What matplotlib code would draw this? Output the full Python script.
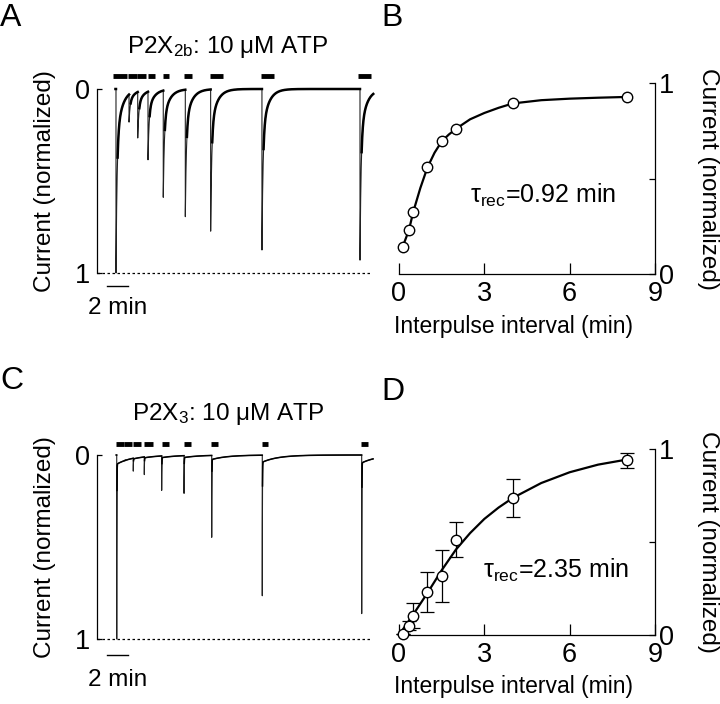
import numpy as np
import matplotlib
matplotlib.use("Agg")
import matplotlib.pyplot as plt

plt.rcParams['font.family'] = ['Liberation Sans', 'DejaVu Sans']
plt.rcParams['mathtext.fontset'] = 'custom'
plt.rcParams['mathtext.rm'] = 'Liberation Sans'
plt.rcParams['mathtext.it'] = 'Liberation Sans:italic'

# ---- panel A: P2X2b trace (minutes from first pulse, normalized current)
a_onsets = [0.0, 1.23, 2.05, 3.02, 4.46, 6.54, 8.93, 13.77, 23.02]
a_peaks = [1.0, 0.15, 0.25, 0.37, 0.58, 0.69, 0.77, 0.875, 0.93]
a_bar_start = [-0.25, 1.16, 2.01, 2.99, 4.41, 6.42, 8.87, 13.71, 22.86]
a_bar_end = [1.01, 1.95, 2.80, 3.68, 5.03, 7.14, 10.07, 14.93, 24.06]
a_end = 24.27

# ---- panel C: P2X3 trace
c_onsets = [0.07, 0.85, 1.63, 2.67, 4.31, 6.42, 9.03, 13.80, 23.18]
c_peaks = [1.0, 0.0, 0.07, 0.096, 0.187, 0.205, 0.445, 0.764, 0.862]
c_bar_start = [0.0, 0.80, 1.60, 2.67, 4.37, 6.44, 8.93, 13.75, 23.11]
c_bar_end = [0.71, 1.51, 2.36, 3.46, 5.00, 7.08, 9.65, 14.37, 23.75]
c_end = 24.25

# ---- panel B: recovery P2X2b
b_interval = [0.13, 0.35, 0.5, 1.0, 1.5, 2.0, 4.0, 8.0]
b_current = [0.143, 0.23, 0.325, 0.558, 0.694, 0.76, 0.893, 0.927]
b_fit_t = [0.13, 0.35, 0.5, 0.75, 1.0, 1.25, 1.5, 1.75, 2.0, 2.5, 3.0, 3.5, 4.0, 5.0, 6.0, 7.0, 8.0]
b_fit_y = [0.143, 0.23, 0.325, 0.45, 0.558, 0.635, 0.694, 0.73, 0.76, 0.81, 0.843, 0.87, 0.893, 0.91, 0.918, 0.923, 0.927]

# ---- panel D: recovery P2X3
d_interval = [0.13, 0.35, 0.5, 1.0, 1.5, 2.0, 4.0, 8.0]
d_current = [0.007, 0.05, 0.104, 0.231, 0.315, 0.513, 0.737, 0.939]
d_err = [0.0, 0.025, 0.067, 0.11, 0.14, 0.095, 0.10, 0.04]
d_fit_t = [0.0, 0.25, 0.5, 0.75, 1.0, 1.5, 2.0, 2.5, 3.0, 3.5, 4.0, 5.0, 6.0, 7.0, 8.0]
d_fit_y = [0.0, 0.055, 0.11, 0.168, 0.226, 0.348, 0.459, 0.548, 0.624, 0.685, 0.737, 0.817, 0.875, 0.916, 0.943]

W, H = 720, 704
FS = 17.5    # vertical axis labels
XFS = 16.5   # horizontal axis labels
TFS = 19.5   # tick labels
PX_PER_MIN = 10.6
T0_PX = 116


def box(left, top, right, bottom):
    return [left / W, 1 - bottom / H, (right - left) / W, (bottom - top) / H]


def build_trace(onsets, peaks, t_end, frac, tau_fast, tau_slow):
    t = np.linspace(onsets[0] - 0.05, t_end, 8000)
    t = np.sort(np.concatenate([t, onsets, np.array(onsets) - 0.002]))
    y = np.zeros_like(t)
    for t0, p in zip(onsets, peaks):
        dt = t - t0
        m = dt >= 0
        y[m] += p * (frac * np.exp(-dt[m] / tau_fast) + (1 - frac) * np.exp(-dt[m] / tau_slow))
    # time since latest pulse, used to draw the fast part thin
    idx = np.searchsorted(onsets, t, side='right') - 1
    since = np.where(idx >= 0, t - np.array(onsets)[np.clip(idx, 0, None)], 99)
    return t, y, since


def trace_panel(top_px, zero_px, one_px, bottom_px, onsets, peaks, starts, ends, t_end,
                shape, lw, fast_win, bar_y, title, title_y, bar_px, label_px):
    ax = fig.add_axes(box(97, top_px, 382, bottom_px))
    scale = one_px - zero_px
    x0 = (97 - T0_PX) / PX_PER_MIN
    ax.set_xlim(x0, (382 - T0_PX) / PX_PER_MIN)
    ax.set_ylim((bottom_px - zero_px) / scale, (top_px - zero_px) / scale)
    t, y, since = build_trace(onsets, peaks, t_end, *shape)
    ax.plot(t, y, color='#222222', lw=0.8)
    slow = np.where(since > fast_win, y, np.nan)
    ax.plot(t, slow, color='black', lw=lw)
    ax.hlines([bar_y] * len(starts), starts, ends, color='black', lw=3.5)
    ax.plot([x0, 24.15], [1, 1], color='black', lw=0.9, ls=(0, (2, 2)))
    # 2 min scale bar
    yb = (bar_px - zero_px) / scale
    ax.plot([-0.85, 1.15], [yb, yb], color='black', lw=1.0, clip_on=False)
    ax.text(0.15, (label_px - zero_px) / scale, '2 min', ha='center', va='baseline', fontsize=FS)
    for s in ['top', 'right', 'bottom']:
        ax.spines[s].set_visible(False)
    ax.spines['left'].set_bounds(0, 1)
    ax.spines['left'].set_linewidth(0.9)
    ax.set_xticks([])
    ax.set_yticks([0, 1])
    ax.set_yticklabels(['0', '1'])
    ax.tick_params(axis='y', direction='in', length=3.5, width=0.9, pad=5, labelsize=TFS)
    ax.patch.set_visible(False)
    fig.text(228 / W, 1 - title_y / H, title, ha='center', va='baseline', fontsize=17.5)
    fig.text(45 / W, 1 - (zero_px + one_px) / 2 / H, 'Current (normalized)', rotation=90,
             ha='center', va='center', fontsize=FS)
    return ax


def recovery_panel(top_px, bottom_px, x, y, fit_t, fit_y, tau_text, tau_xy, err=None):
    ax = fig.add_axes(box(399, top_px, 655, bottom_px))
    ax.set_xlim(0, 9)
    ax.set_ylim(0, 1)
    ax.plot(fit_t, fit_y, color='black', lw=1.6, zorder=2, clip_on=False)
    if err is not None:
        ax.errorbar(x, y, yerr=err, fmt='none', ecolor='black', elinewidth=0.9,
                    capsize=5, capthick=0.9, zorder=2, clip_on=False)
    ax.plot(x, y, 'o', ms=7.5, mfc='white', mec='black', mew=1.0, zorder=3, clip_on=False)
    ax.text(tau_xy[0], tau_xy[1], tau_text, fontsize=18, ha='left', va='center')
    for s in ['top', 'left']:
        ax.spines[s].set_visible(False)
    for s in ['bottom', 'right']:
        ax.spines[s].set_linewidth(0.9)
    ax.set_xticks([0, 3, 6, 9])
    ax.set_xticklabels(['0', '3', '6', '9'])
    ax.yaxis.tick_right()
    ax.set_yticks([0, 0.5, 1])
    ax.set_yticklabels(['0', '', '1'])
    ax.tick_params(axis='x', direction='in', length=8, width=0.9, pad=5, labelsize=TFS)
    ax.tick_params(axis='y', direction='in', length=4, width=0.9, pad=3, labelsize=TFS)
    ax.patch.set_visible(False)
    fig.text(514 / W, 1 - (bottom_px + 52) / H, 'Interpulse interval (min)',
             ha='center', va='center', fontsize=XFS)
    fig.text(708 / W, 1 - (top_px + bottom_px) / 2 / H, 'Current (normalized)', rotation=270,
             ha='center', va='center', fontsize=FS)
    return ax


fig = plt.figure(figsize=(7.2, 7.04), dpi=100)

trace_panel(62, 89, 273, 312, a_onsets, a_peaks, a_bar_start, a_bar_end, a_end,
            (0.72, 0.1, 0.55), 1.8, 0.15, -0.073, r'P2X$_\mathregular{2b}$: 10 μM ATP', 53,
            286, 314)
trace_panel(428, 455, 639, 690, c_onsets, c_peaks, c_bar_start, c_bar_end, c_end,
            (0.95, 0.012, 1.5), 1.1, 0.02, -0.06, r'P2X$_\mathregular{3}$: 10 μM ATP', 420,
            655, 686)

recovery_panel(83, 274, b_interval, b_current, b_fit_t, b_fit_y,
               r'τ$_\mathregular{rec}$=0.92 min', (2.5, 0.41))
recovery_panel(449, 635, d_interval, d_current, d_fit_t, d_fit_y,
               r'τ$_\mathregular{rec}$=2.35 min', (2.95, 0.35), err=d_err)

for letter, x, y in [('A', 0, 26), ('B', 381, 26), ('C', 0, 389), ('D', 381, 400)]:
    fig.text(x / W, 1 - y / H, letter, fontsize=23, ha='left', va='baseline')

fig.savefig('out.png', dpi=100)
